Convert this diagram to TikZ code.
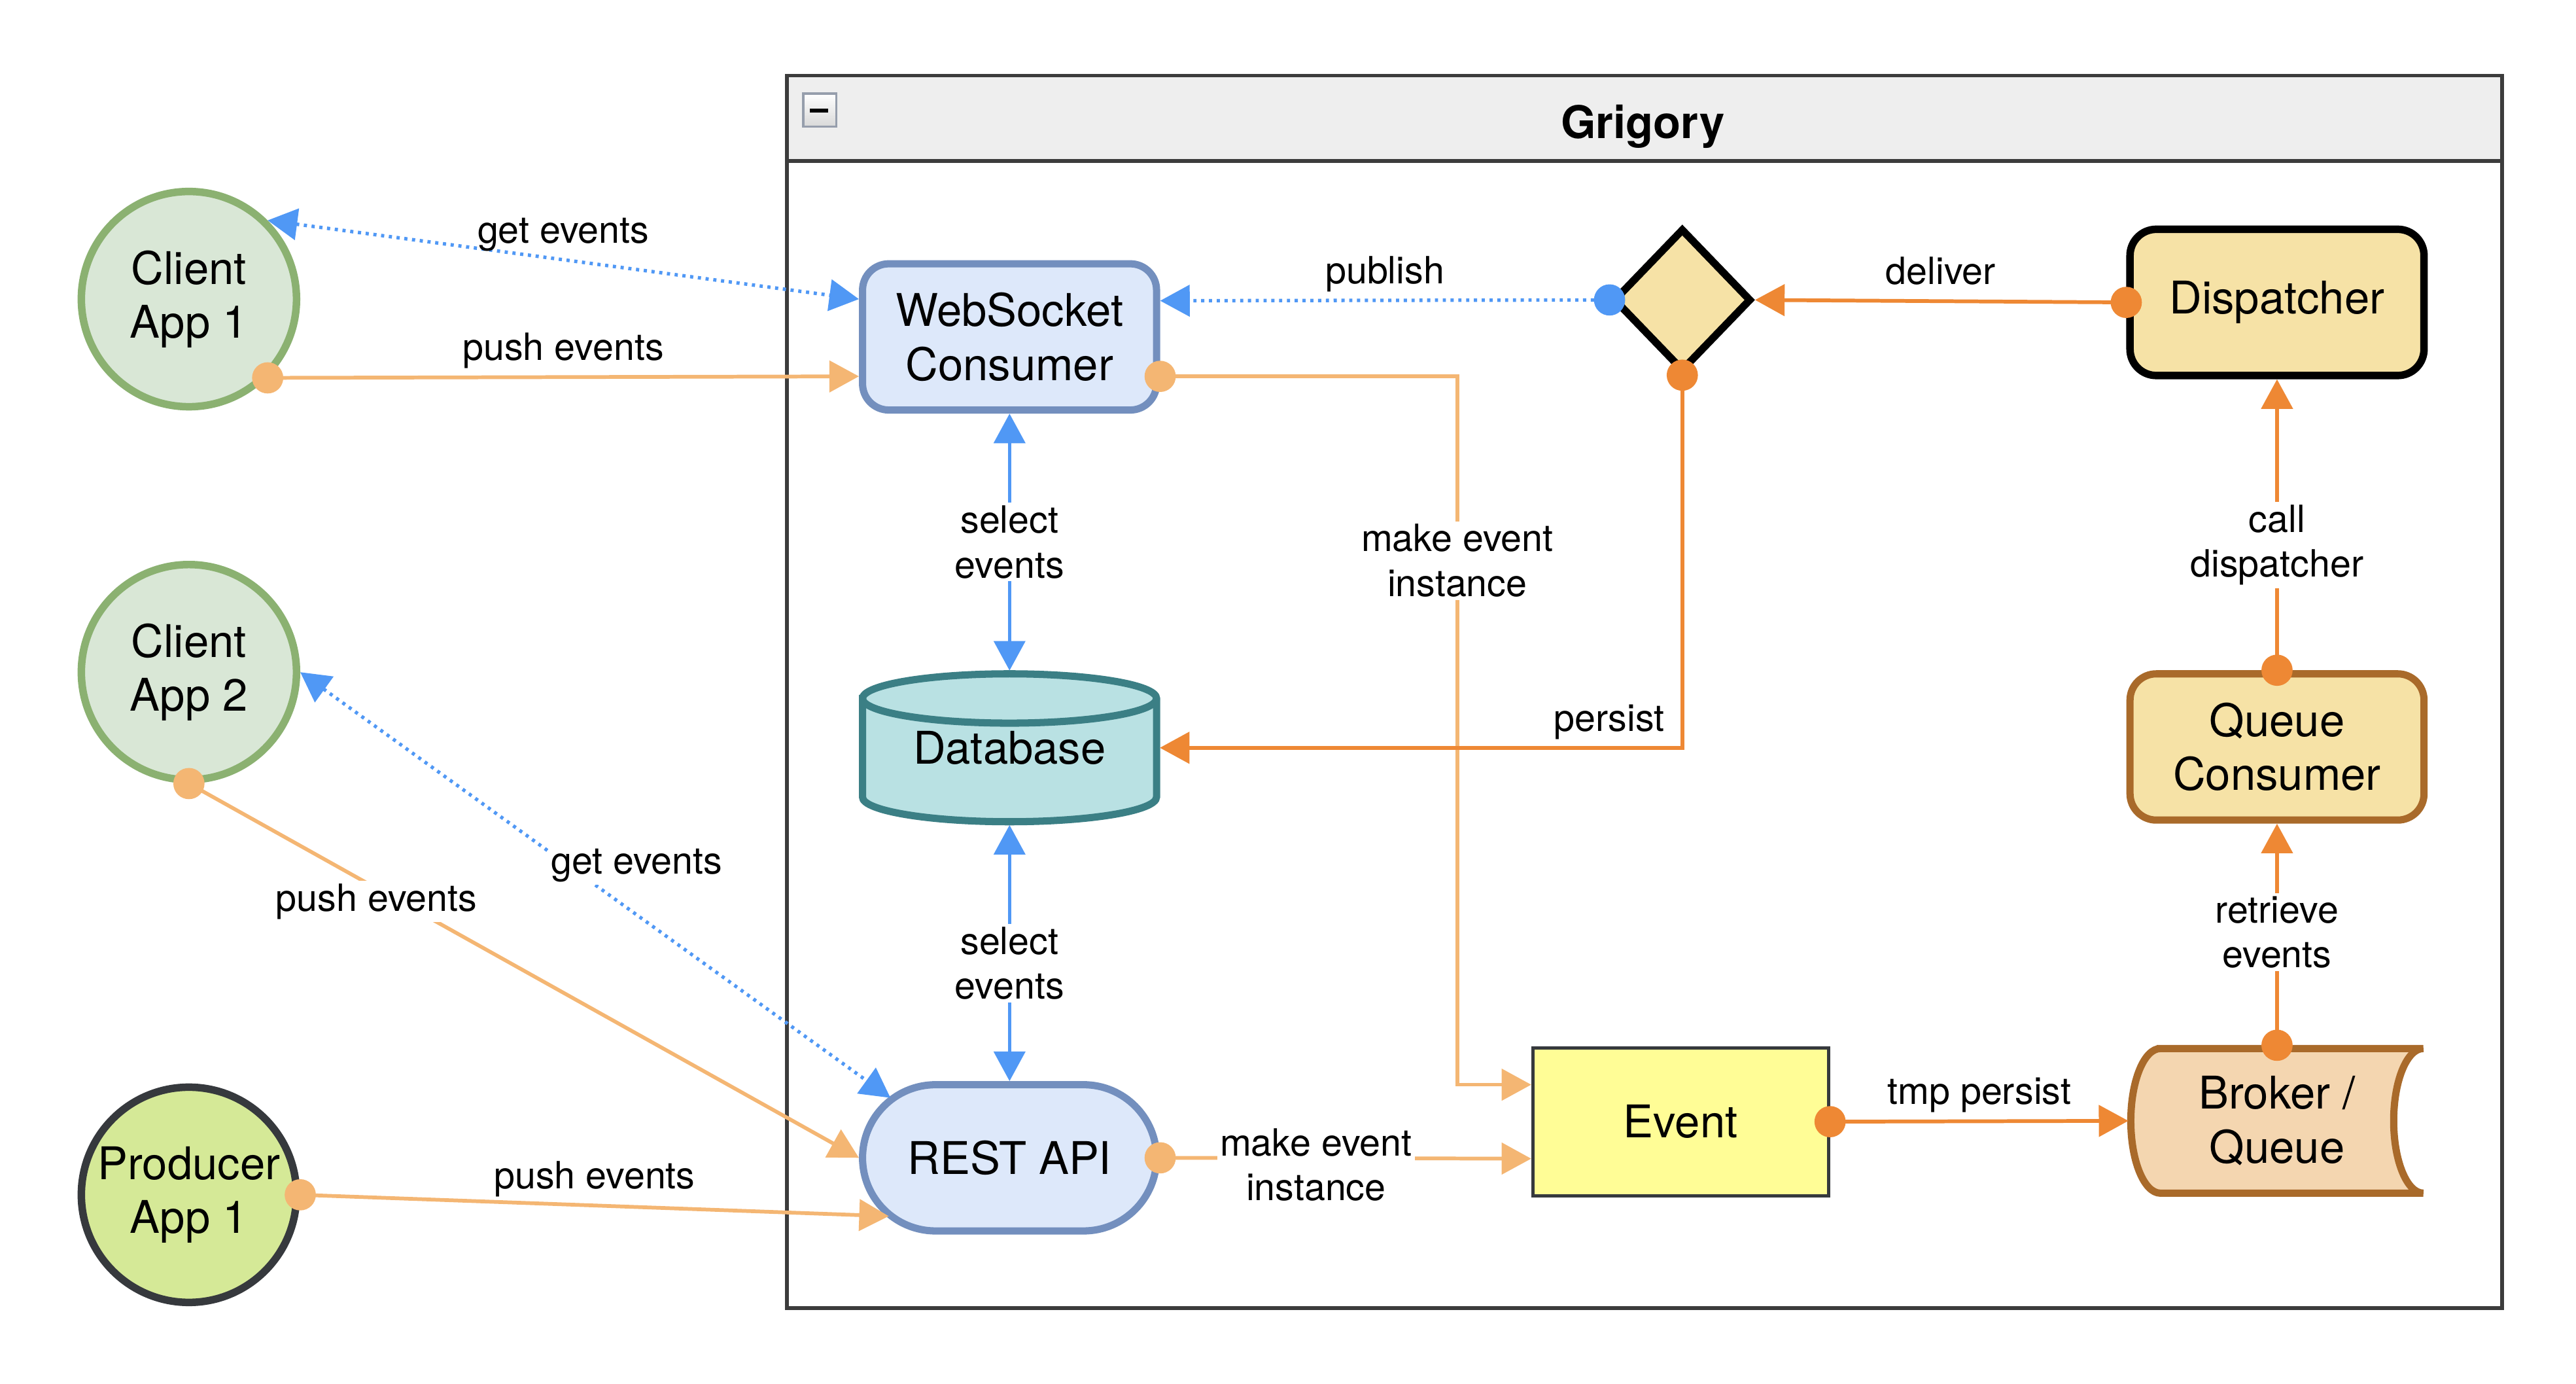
\documentclass[tikz,border=0pt]{standalone}
\usepackage{fontspec}
\setmainfont{TeX Gyre Heros}
\usepackage{xcolor}
\usetikzlibrary{arrows.meta,positioning,calc,shapes.geometric,shapes.misc}

\definecolor{edgeblue}{RGB}{80,152,245}
\definecolor{edgelight}{RGB}{244,182,115}
\definecolor{edgedark}{RGB}{238,136,52}
\definecolor{clientfill}{RGB}{217,231,214}
\definecolor{clientedge}{RGB}{139,177,113}
\definecolor{prodfill}{RGB}{213,233,151}
\definecolor{darkedge}{RGB}{54,57,61}
\definecolor{svcfill}{RGB}{221,232,250}
\definecolor{svcedge}{RGB}{115,143,190}
\definecolor{dbfill}{RGB}{185,225,227}
\definecolor{dbedge}{RGB}{59,127,133}
\definecolor{gold}{RGB}{246,226,166}
\definecolor{brown}{RGB}{169,106,42}
\definecolor{brokerfill}{RGB}{244,214,176}
\definecolor{eventfill}{RGB}{255,253,150}
\definecolor{headgray}{RGB}{238,238,238}
\definecolor{frameedge}{RGB}{60,60,60}
\definecolor{iconedge}{RGB}{150,158,172}

\begin{document}
\begin{tikzpicture}[x=0.02cm,y=-0.02cm,
  font=\fontsize{15.6}{18.7}\selectfont,
  app/.style={circle,draw,line width=2.6pt,align=center,minimum size=2.62cm,inner sep=0pt},
  client/.style={app,draw=clientedge,fill=clientfill},
  producer/.style={app,draw=darkedge,fill=prodfill},
  svc/.style={draw=svcedge,fill=svcfill,line width=2.5pt,align=center,minimum width=3.58cm,minimum height=1.78cm,inner sep=0pt},
  consumer/.style={svc,rounded corners=0.32cm},
  api/.style={svc,rounded rectangle},
  goldbox/.style={draw,fill=gold,line width=2.6pt,rounded corners=0.32cm,align=center,minimum width=3.58cm,minimum height=1.78cm,inner sep=0pt},
  queuebox/.style={goldbox,draw=brown,line width=2.5pt},
  gate/.style={diamond,draw,fill=gold,line width=2.6pt,minimum width=1.68cm,minimum height=1.74cm,inner sep=0pt},
  eventbox/.style={draw=darkedge,fill=eventfill,line width=1.1pt,minimum width=3.6cm,minimum height=1.8cm,inner sep=0pt},
  holder/.style={align=center,inner sep=0pt,outer sep=0pt},
  lbl/.style={font=\fontsize{13}{15.5}\selectfont,fill=white,inner sep=1pt,align=center},
  lblup/.style={lbl,fill=none,above=-0.5pt,execute at begin node=\strut},
  blu/.style={draw=edgeblue,line width=1.2pt},
  dots/.style={dash pattern=on 1.1pt off 1.6pt},
  ltor/.style={draw=edgelight,line width=1.3pt},
  dkor/.style={draw=edgedark,line width=1.3pt},
  arr/.style={-{Triangle[length=0.36cm,width=0.38cm]}},
  biarr/.style={{Triangle[length=0.36cm,width=0.38cm]}-{Triangle[length=0.36cm,width=0.38cm]}},
  blob/.style={circle,inner sep=0pt,minimum size=0.38cm}]
\useasboundingbox (0,0) rectangle (1568,842);

% container
\draw[frameedge,line width=1.3pt,fill=white] (479,46) rectangle (1523,796);
\filldraw[draw=frameedge,fill=headgray,line width=1.3pt] (479,46) rectangle (1523,98);
\node[font=\fontsize{15.6}{18.7}\selectfont\bfseries] (title) at (1000,77) {Grigory};
\filldraw[draw=iconedge,top color=white,bottom color=gray!30,line width=0.8pt] (489,57) rectangle (509,77);
\fill (493,66) rectangle (504,68.5);

% apps
\node[client] (c1) at (115,182) {Client\\App 1};
\node[client] (c2) at (115,409) {Client\\App 2};
\node[producer] (p1) at (115,727) {Producer\\App 1};

% left column
\node[consumer] (ws) at (614.5,205) {WebSocket\\Consumer};
\filldraw[draw=dbedge,fill=dbfill,line width=2.5pt] (525,425) -- (525,485)
  arc[start angle=180,end angle=360,x radius=1.79cm,y radius=0.3cm] -- (704,425)
  arc[start angle=0,end angle=180,x radius=1.79cm,y radius=0.3cm] -- cycle;
\draw[dbedge,line width=2.5pt] (525,425) arc[start angle=180,end angle=360,x radius=1.79cm,y radius=0.3cm];
\node[holder,minimum width=3.66cm,minimum height=1.88cm] (db) at (614.5,455) {Database};
\node[api] (rest) at (614.5,704.5) {REST API};

% right side
\node[gate] (gw) at (1024,182.5) {};
\node[goldbox] (disp) at (1386,184) {Dispatcher};
\node[queuebox] (qc) at (1386,454.5) {Queue\\Consumer};
\node[eventbox] (ev) at (1023,682.5) {Event};
\filldraw[draw=brown,fill=brokerfill,line width=2.5pt] (1315,638) -- (1475,638)
  arc[start angle=90,end angle=270,x radius=0.36cm,y radius=0.88cm] -- (1315,726)
  arc[start angle=270,end angle=90,x radius=0.36cm,y radius=0.88cm] -- cycle;
\node[holder,minimum width=3.62cm,minimum height=1.84cm] (bq) at (1386,682) {Broker /\\Queue};

% clients to websocket
\draw[blu,dots,biarr] (c1.north east) -- node[lblup]{get events} ($(ws.west)+(0,-23)$);
\draw[ltor,arr] (c1.south east) node[blob,fill=edgelight]{} -- node[lblup]{push events} ($(ws.west)+(0,24)$);

% clients to rest api
\draw[blu,dots,biarr] (c2.east) -- node[lbl,pos=0.57,yshift=0.6cm]{get events} ($(rest.center)+(-72.5,-36.5)$);
\draw[ltor,arr] (c2.south) node[blob,fill=edgelight]{} -- node[lbl,pos=0.28,yshift=-0.16cm]{push events} (rest.west);
\draw[ltor,arr] (p1.east) node[blob,fill=edgelight]{} -- node[lblup]{push events} ($(rest.center)+(-73.5,35.5)$);

% database
\draw[blu,biarr] (ws.south) -- node[lbl]{select\\events} (db.north);
\draw[blu,biarr] (db.south) -- node[lbl,pos=0.54]{select\\events} (rest.north);

% events
\draw[ltor,arr] ($(ws.east)+(0,24)$) node[blob,fill=edgelight]{} -- (887,229) |- node[lbl,pos=0.13]{make event\\instance} ($(ev.west)+(0,-22.5)$);
\draw[ltor,arr] (rest.east) node[blob,fill=edgelight]{} -- node[lbl,pos=0.42,yshift=-0.08cm]{make event\\instance} ($(ev.west)+(0,22.5)$);
\draw[dkor,arr] (ev.east) node[blob,fill=edgedark]{} -- node[lblup]{tmp persist} (bq.west);
\draw[dkor,arr] (bq.north) node[blob,fill=edgedark]{} -- node[lbl,pos=0.51]{retrieve\\events} (qc.south);
\draw[dkor,arr] (qc.north) node[blob,fill=edgedark]{} -- node[lbl,pos=0.43]{call\\dispatcher} (disp.south);
\draw[dkor,arr] (disp.west) node[blob,fill=edgedark]{} -- node[lblup]{deliver} (gw.east);
\draw[dkor,arr] (gw.south) node[blob,fill=edgedark]{} |- node[lblup,pos=0.57]{persist} (db.east);
\draw[blu,dots,arr] (gw.west) node[blob,fill=edgeblue]{} -- node[lblup]{publish} ($(ws.east)+(0,-22)$);
\end{tikzpicture}
\end{document}
